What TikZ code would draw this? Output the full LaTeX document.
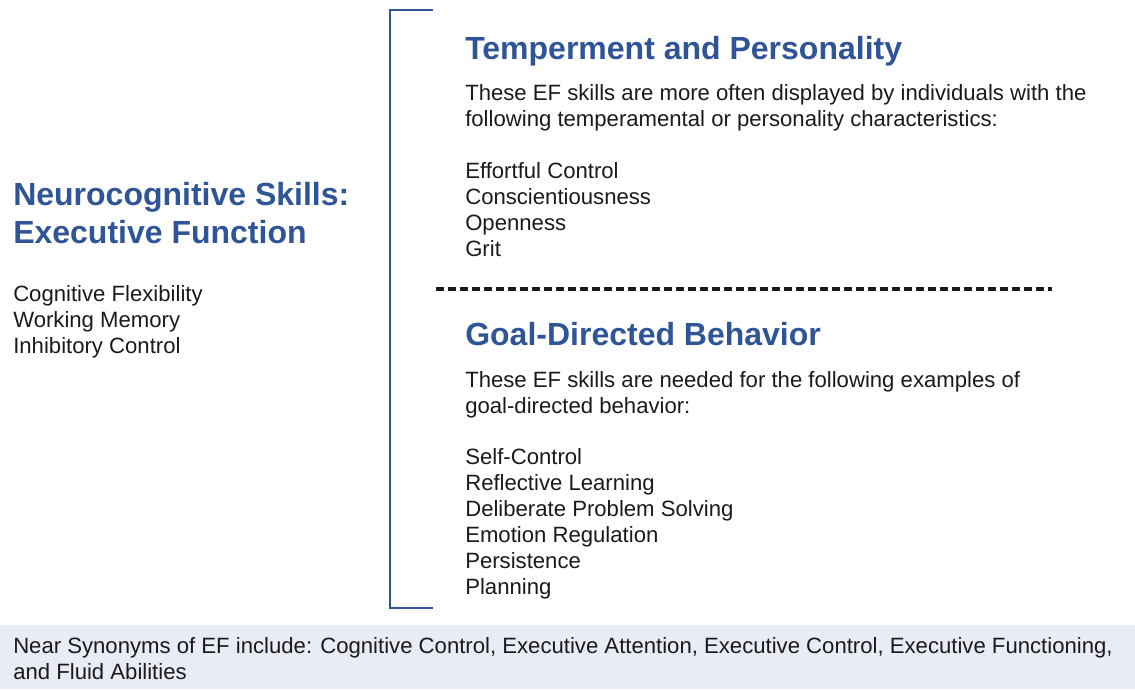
\documentclass[tikz,border=0pt]{standalone}
\usepackage{fontspec}
\setmainfont{Liberation Sans}
\usepackage{xcolor}
\usetikzlibrary{positioning,calc}
\definecolor{efblue}{HTML}{2F5597}
\definecolor{efband}{HTML}{E9ECF5}
\definecolor{eftext}{HTML}{1A1A1A}
\tikzset{
  heading/.style={anchor=base west, inner sep=0pt, text=efblue, font=\fontsize{24}{29}\selectfont\bfseries},
  bodytext/.style={anchor=base west, inner sep=0pt, text=eftext, font=\fontsize{16.6}{20}\selectfont},
  bracketline/.style={draw=efblue, line width=1.5pt},
  divider/.style={draw=black!90, line width=2.3pt, dash pattern=on 6pt off 3pt}
}
\begin{document}
\begin{tikzpicture}[x=0.75pt, y=-0.75pt]
    \useasboundingbox (0,0) rectangle (1135,689);
    % synonyms band
    \fill[efband] (0,625) rectangle (1135,689);
    \node[bodytext] (syn1) at (13,653) {Near Synonyms of EF include: Cognitive Control, Executive Attention, Executive Control, Executive Functioning,};
    \node[bodytext] (syn2) at (13,679) {and Fluid Abilities};
    % left column
    \node[heading] (ncs) at (13,205) {Neurocognitive Skills:};
    \node[heading] (exf) at (13,243) {Executive Function};
    \foreach \t [count=\i] in {Cognitive Flexibility, Working Memory, Inhibitory Control}
        \node[bodytext] (ef\i) at (13,{301+26*(\i-1)}) {\t};
    % bracket
    \coordinate (btop) at (433,10);
    \coordinate (bbot) at (433,608);
    \draw[bracketline] (btop) -- (390,10) -- (390,608) -- (bbot);
    % temperament
    \node[heading] (tmp) at (465,59) {Temperment and Personality};
    \node[bodytext] (tmpa) at (465,100) {These EF skills are more often displayed by individuals with the};
    \node[bodytext] (tmpb) at (465,126) {following temperamental or personality characteristics:};
    \foreach \t [count=\i] in {Effortful Control, Conscientiousness, Openness, Grit}
        \node[bodytext] (tp\i) at (465,{178+26*(\i-1)}) {\t};
    % divider
    \coordinate (dl) at (436,289);
    \coordinate (dr) at (1052,289);
    \draw[divider] (dl) -- (dr);
    % goal-directed behaviour
    \node[heading] (gdb) at (465,345) {Goal-Directed Behavior};
    \node[bodytext] (gdba) at (465,387) {These EF skills are needed for the following examples of};
    \node[bodytext] (gdbb) at (465,413) {goal-directed behavior:};
    \foreach \t [count=\i] in {Self-Control, Reflective Learning, Deliberate Problem Solving, Emotion Regulation, Persistence, Planning}
        \node[bodytext] (gd\i) at (465,{464+26*(\i-1)}) {\t};
\end{tikzpicture}
\end{document}
